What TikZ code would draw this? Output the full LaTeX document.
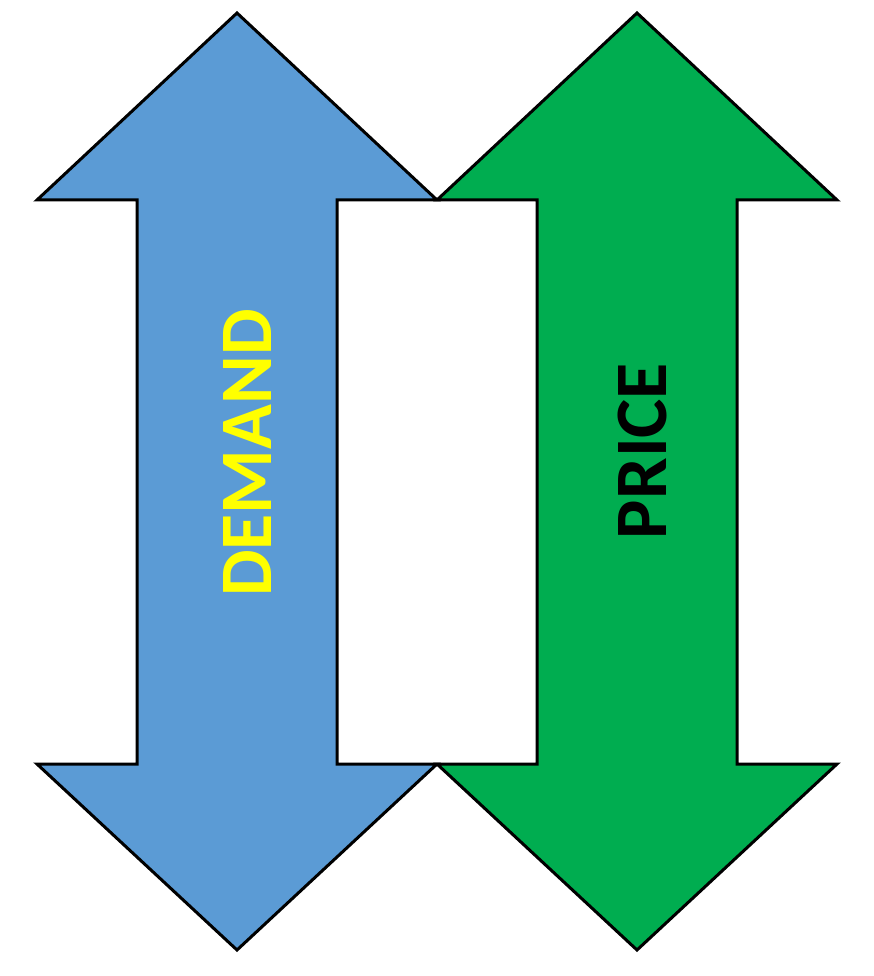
\documentclass[tikz,border=0pt]{standalone}
\usepackage{fontspec}
\setmainfont{Carlito}
\definecolor{demandblue}{HTML}{5B9BD5}
\definecolor{pricegreen}{HTML}{00AD50}
\definecolor{labelyellow}{HTML}{FFFF00}
\begin{document}
\begin{tikzpicture}[x=1pt,y=-1pt,
  arrowshape/.style={draw=black,line width=3pt,line join=miter},
  biglabel/.style={font=\fontsize{74}{74}\selectfont\bfseries,rotate=90,inner sep=0pt}]
\useasboundingbox (0,0) rectangle (874,976);
\path[arrowshape,fill=demandblue] (237,13) -- (437,200) -- (337,200) -- (337,764) -- (437,764) -- (237,950) -- (37,764) -- (137,764) -- (137,200) -- (37,200) -- cycle;
\path[arrowshape,fill=pricegreen] (637,13) -- (837,200) -- (737,200) -- (737,764) -- (837,764) -- (637,950) -- (437,764) -- (537,764) -- (537,200) -- (437,200) -- cycle;
\node[biglabel,text=labelyellow] (demand) at (248,453) {DEMAND};
\node[biglabel,text=black] (price) at (642,451) {PRICE};
\end{tikzpicture}
\end{document}
